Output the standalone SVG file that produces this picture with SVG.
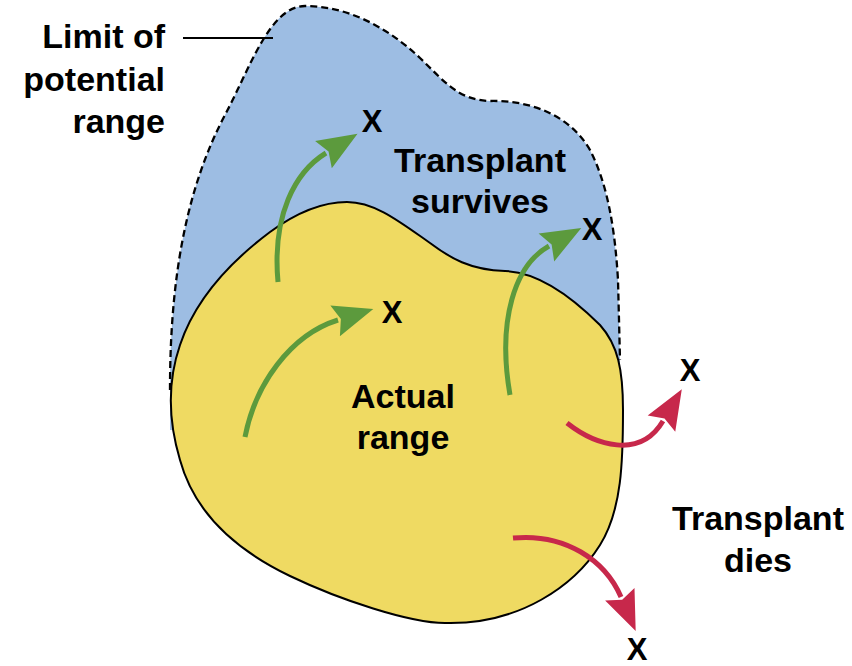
<svg xmlns="http://www.w3.org/2000/svg" width="852" height="666" viewBox="0 0 852 666">
<style>
  .lbl { font-family: "Liberation Sans", Arial, sans-serif; font-weight: bold; font-size: 34px; fill: #000; }
  .x { font-family: "Liberation Sans", Arial, sans-serif; font-weight: bold; font-size: 31px; fill: #000; text-anchor: middle; }
  .g { fill: none; stroke: #5c9a3d; stroke-width: 5; }
  .r { fill: none; stroke: #c7284b; stroke-width: 5; }
</style>
<defs>
  <marker id="ag" markerUnits="userSpaceOnUse" markerWidth="42" markerHeight="34" refX="3" refY="16" orient="auto" overflow="visible">
    <path d="M0,0 L40,16 L0,32 L6,16 Z" fill="#5c9a3d"/>
  </marker>
  <marker id="ar" markerUnits="userSpaceOnUse" markerWidth="42" markerHeight="34" refX="3" refY="16" orient="auto" overflow="visible">
    <path d="M0,0 L40,16 L0,32 L6,16 Z" fill="#c7284b"/>
  </marker>
</defs>
<rect width="852" height="666" fill="#fff"/>

<g id="potential-range">
  <path d="M170,390 C170,300 180,200 225,115 C250,68 270,6 305,6 C345,6 385,25 420,58 C445,82 458,100 490,101 C530,100 570,115 590,150 C608,185 615,230 618,280 L620,360 L620,430 L170,430 Z" fill="#9dbde3"/>
  <path d="M170,390 C170,300 180,200 225,115 C250,68 270,6 305,6 C345,6 385,25 420,58 C445,82 458,100 490,101 C530,100 570,115 590,150 C608,185 615,230 618,280 L620,360" fill="none" stroke="#000" stroke-width="2.3" stroke-dasharray="7,4"/>
</g>

<g id="actual-range">
  <path d="M347,202 C375,202 400,222 430,243 C450,258 470,270 505,271 C540,272 575,300 600,325 C618,345 623,370 623,410 C623,460 622,510 600,545 C575,585 520,625 445,623 C410,623 340,600 290,576 C240,552 195,515 180,460 C168,420 168,380 180,345 C195,300 230,262 270,232 C300,210 325,202 347,202 Z" fill="#efda62" stroke="#000" stroke-width="2"/>
</g>

<g id="leader">
  <line x1="183" y1="38" x2="273" y2="38" stroke="#000" stroke-width="2"/>
</g>

<g id="connectors">
  <path class="g" d="M278,282 C272,215 295,172 326,153" marker-end="url(#ag)"/>
  <path class="g" d="M245,437 C255,385 290,335 338,320" marker-end="url(#ag)"/>
  <path class="g" d="M510,395 C497,320 515,265 549,246" marker-end="url(#ag)"/>
  <path class="r" d="M567,423 C595,445 640,460 663,421" marker-end="url(#ar)"/>
  <path class="r" d="M513,538 C565,533 605,560 621,597" marker-end="url(#ar)"/>
</g>

<g id="label-limit">
  <text class="lbl" text-anchor="end" x="165" y="48">Limit of</text>
  <text class="lbl" text-anchor="end" x="165" y="91">potential</text>
  <text class="lbl" text-anchor="end" x="165" y="133">range</text>
</g>
<g id="label-survives">
  <text class="lbl" text-anchor="middle" x="480" y="172">Transplant</text>
  <text class="lbl" text-anchor="middle" x="480" y="213">survives</text>
</g>
<g id="label-actual">
  <text class="lbl" text-anchor="middle" x="403" y="408">Actual</text>
  <text class="lbl" text-anchor="middle" x="403" y="449">range</text>
</g>
<g id="label-dies">
  <text class="lbl" text-anchor="middle" x="758" y="530">Transplant</text>
  <text class="lbl" text-anchor="middle" x="758" y="572">dies</text>
</g>
<g id="x-marks">
  <text class="x" x="372" y="132">X</text>
  <text class="x" x="392" y="323">X</text>
  <text class="x" x="592" y="240">X</text>
  <text class="x" x="690" y="381">X</text>
  <text class="x" x="637" y="660">X</text>
</g>
</svg>
